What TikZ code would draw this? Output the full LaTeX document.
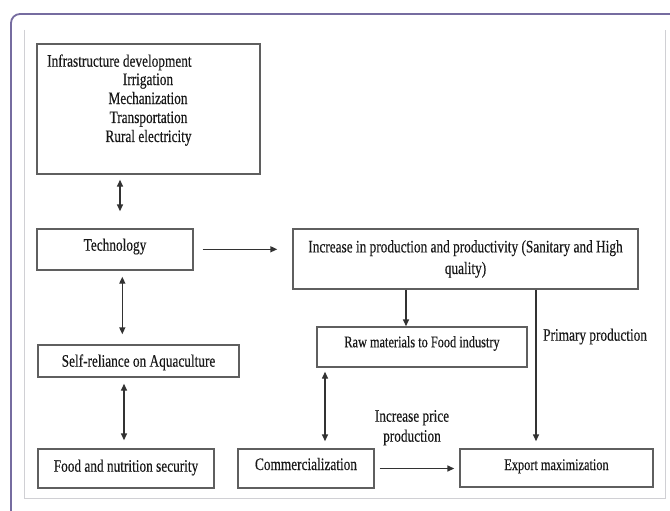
\documentclass[tikz,border=0pt]{standalone}
\usepackage{fontspec}
\setmainfont{Liberation Serif}[FakeStretch=0.76,FakeBold=0.35]
\usetikzlibrary{arrows.meta}
\definecolor{boxgray}{RGB}{95,95,95}
\definecolor{linegray}{RGB}{50,50,50}
\definecolor{framec}{RGB}{118,108,160}
\definecolor{innerc}{RGB}{208,208,212}
\begin{document}
\begin{tikzpicture}[x=1pt,y=-1pt,
  box/.style={draw=boxgray, line width=1.4pt, inner sep=2pt, font=\fontsize{17.5}{21.6}\selectfont, text=black!90},
  smallbox/.style={box, font=\fontsize{16.2}{19}\selectfont},
  conn/.style={draw=linegray, line width=1.4pt},
  tip/.style={-{Triangle[length=7pt,width=6pt]}},
  bitip/.style={{Triangle[length=7pt,width=6pt]}-{Triangle[length=7pt,width=6pt]}},
  lbl/.style={font=\fontsize{17.5}{20}\selectfont, inner sep=0pt, text=black!90}]
\useasboundingbox (0,0) rectangle (670,511);
\fill[white] (0,0) rectangle (670,511);
% frames
\draw[framec, line width=1.8pt, rounded corners=9pt] (11,511) -- (11,14) -- (670,14);
\draw[innerc, line width=0.9pt] (24,30) -- (24,498) -- (665,498) -- (665,30);
% boxes
\node[box, minimum width=223pt, minimum height=130pt] (infra) at (148.5,109) {};
\node[lbl, anchor=base west] (infraA) at (47,66.7) {Infrastructure development};
\node[lbl, anchor=base] (infraB) at (148,85) {Irrigation};
\node[lbl, anchor=base] (infraC) at (148,104) {Mechanization};
\node[lbl, anchor=base] (infraD) at (148.5,123) {Transportation};
\node[lbl, anchor=base] (infraE) at (148.5,142) {Rural electricity};
\node[box, minimum width=156pt, minimum height=41pt, text height=12pt, text depth=9.6pt] (tech) at (115,249.5) {Technology};
\node[box, minimum width=345pt, minimum height=60pt, align=center] (inc) at (465.5,259) {Increase in production and productivity (Sanitary and High\\quality)};
\node[smallbox, minimum width=210pt, minimum height=40pt, text height=12pt, text depth=11.4pt] (raw) at (422,347) {Raw materials to Food industry};
\node[box, minimum width=201pt, minimum height=32pt, text height=12pt, text depth=0.6pt] (self) at (138.5,361) {Self-reliance on Aquaculture};
\node[box, minimum width=176pt, minimum height=39pt, text height=12pt, text depth=5.6pt] (food) at (126,468.5) {Food and nutrition security};
\node[box, minimum width=136pt, minimum height=39pt, text height=12pt, text depth=9pt] (comm) at (306,468.5) {Commercialization};
\node[smallbox, minimum width=193pt, minimum height=38pt, text height=12pt, text depth=8pt] (export) at (556.5,468) {Export maximization};
% labels
\node[lbl, anchor=base west] (prim) at (543,340.7) {Primary production};
\node[lbl, anchor=base] (incpA) at (412,421.7) {Increase price};
\node[lbl, anchor=base] (incpB) at (412,441.7) {production};
% connectors
\draw[conn, bitip, shorten <=5pt, shorten >=17pt] (infra.south -| 120,0) -- (tech.north -| 120,0);
\draw[conn, bitip, shorten <=6pt, shorten >=10pt] (tech.south -| 122.3,0) -- (self.north -| 122.3,0);
\draw[conn, bitip, shorten <=6pt, shorten >=8pt] (self.south -| 124,0) -- (food.north -| 124,0);
\draw[conn, tip, shorten <=9pt, shorten >=15pt] (tech.east |- 0,249.3) -- (inc.west |- 0,249.3);
\draw[conn, tip] (inc.south -| 406,0) -- (raw.north -| 406,0);
\draw[conn, bitip, shorten <=4pt, shorten >=7pt] (raw.south -| 325,0) -- (comm.north -| 325,0);
\draw[conn, tip, shorten >=7pt] (inc.south -| 536,0) -- (export.north -| 536,0);
\draw[conn, tip, shorten <=5pt, shorten >=5pt] (comm.east) -- (comm.east -| export.west);
\end{tikzpicture}
\end{document}
